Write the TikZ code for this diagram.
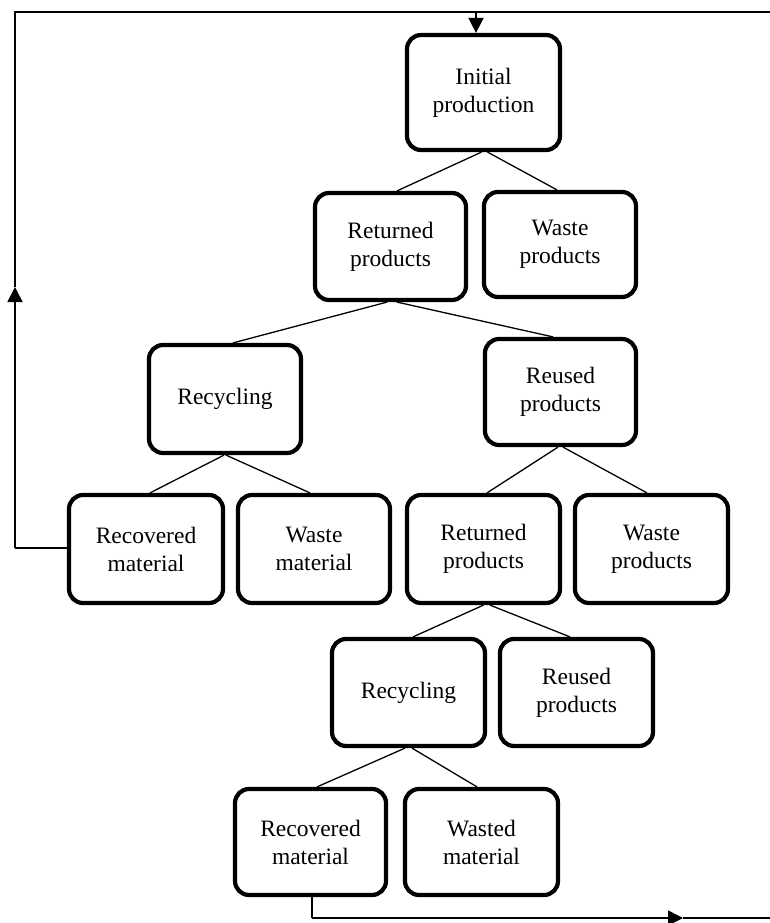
\documentclass[tikz,border=0pt]{standalone}
\usepackage{fontspec}
\setmainfont{Liberation Serif}
\usetikzlibrary{arrows.meta}
\begin{document}
\begin{tikzpicture}[x=1pt,y=1pt,
  box/.style={draw, line width=4.2pt, rounded corners=14pt, align=center,
    inner sep=2pt, font=\fontsize{23.5pt}{28pt}\selectfont},
  link/.style={line width=1.3pt},
  loop/.style={line width=1.6pt},
  tip/.style={-{Triangle[length=15pt,width=15pt]}}]
\useasboundingbox (0,0) rectangle (770,-923);

\node[box, minimum width=153pt, minimum height=115pt] (ip)  at (483.5,-92.5) {Initial\\production};
\node[box, minimum width=151pt, minimum height=107pt] (rp1) at (390.5,-246.5) {Returned\\products};
\node[box, minimum width=152pt, minimum height=105pt] (wp1) at (560,-244.5) {Waste\\products};
\node[box, minimum width=152pt, minimum height=108pt] (rc1) at (225,-399) {Recycling};
\node[box, minimum width=151pt, minimum height=106pt] (ru1) at (560.5,-392) {Reused\\products};
\node[box, minimum width=154pt, minimum height=108pt] (rm1) at (146,-549) {Recovered\\material};
\node[box, minimum width=152pt, minimum height=108pt] (wm1) at (314,-549) {Waste\\material};
\node[box, minimum width=153pt, minimum height=108pt] (rp2) at (483.5,-549) {Returned\\products};
\node[box, minimum width=153pt, minimum height=108pt] (wp2) at (651.5,-549) {Waste\\products};
\node[box, minimum width=153pt, minimum height=107pt] (rc2) at (408.5,-692.5) {Recycling};
\node[box, minimum width=153pt, minimum height=107pt] (ru2) at (576.5,-692.5) {Reused\\products};
\node[box, minimum width=151pt, minimum height=106pt] (rm2) at (310.5,-842) {Recovered\\material};
\node[box, minimum width=153pt, minimum height=106pt] (wm2) at (481.5,-842) {Wasted\\material};

% tree connectors
\draw[link] ([xshift=-2pt]ip.south) -- ([xshift=6.5pt]rp1.north);
\draw[link] ([xshift=4pt]ip.south) -- ([xshift=-3pt]wp1.north);
\draw[link] ([xshift=-3.5pt]rp1.south) -- ([xshift=8pt]rc1.north);
\draw[link] ([xshift=6.5pt]rp1.south) -- ([xshift=-7.5pt]ru1.north);
\draw[link] ([xshift=-1pt]rc1.south) -- ([xshift=4pt]rm1.north);
\draw[link] ([xshift=1pt]rc1.south) -- ([xshift=-4pt]wm1.north);
\draw[link] ([xshift=-2.5pt]ru1.south) -- ([xshift=3.5pt]rp2.north);
\draw[link] ([xshift=2.5pt]ru1.south) -- ([xshift=-4.5pt]wp2.north);
\draw[link] (rp2.south) -- ([xshift=4.5pt]rc2.north);
\draw[link] ([xshift=6.5pt]rp2.south) -- ([xshift=-6.5pt]ru2.north);
\draw[link] ([xshift=-3.5pt]rc2.south) -- ([xshift=6.5pt]rm2.north);
\draw[link] ([xshift=3.5pt]rc2.south) -- ([xshift=-4.5pt]wm2.north);

% feedback loop
\coordinate (lb) at (15,-548);
\coordinate (lm) at (15,-287);
\coordinate (lt) at (15,-12);
\coordinate (rt) at (770,-12);
\coordinate (ta) at (476,-12);
\draw[loop] (rm1.west |- lb) -- (lb);
\draw[loop, tip] (lb) -- (lm);
\draw[loop] (lm) -- (lt) -- (rt);
\draw[loop, tip] (ta) -- (ta |- ip.north);

% outgoing line
\coordinate (bl) at (312,-918);
\coordinate (bm) at (683,-918);
\coordinate (br) at (770,-918);
\draw[loop] (bl |- rm2.south) -- (bl);
\draw[loop, tip] (bl) -- (bm);
\draw[loop] (bm) -- (br);
\end{tikzpicture}
\end{document}
